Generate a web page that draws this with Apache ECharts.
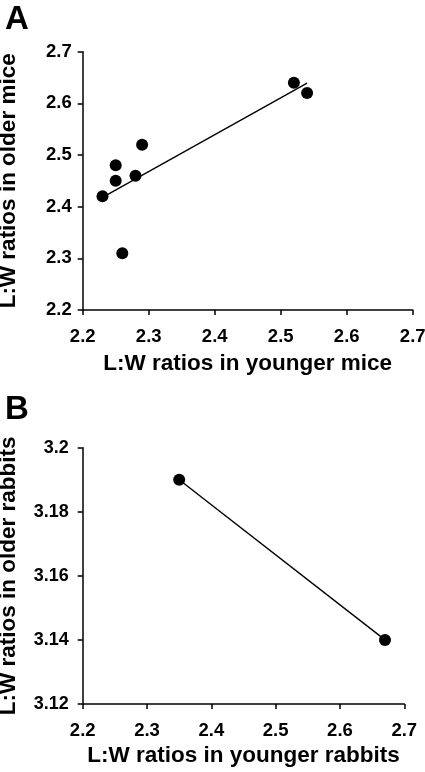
<!DOCTYPE html>
<html>
<head>
<meta charset="utf-8">
<script src="https://cdn.jsdelivr.net/npm/echarts@6/dist/echarts.min.js"></script>
<style>
html,body{margin:0;padding:0;background:#fff;}
#chart{width:425px;height:772px;}
</style>
</head>
<body>
<div id="chart"></div>
<script>
// Panel A: mice
const miceYoung = [2.23, 2.25, 2.25, 2.28, 2.29, 2.26, 2.52, 2.54];
const miceOld   = [2.42, 2.48, 2.45, 2.46, 2.52, 2.31, 2.64, 2.62];
const miceTrendX = [2.23, 2.54];
const miceTrendY = [2.418, 2.639];
const miceXTicks = [2.2, 2.3, 2.4, 2.5, 2.6, 2.7];
const miceYTicks = [2.2, 2.3, 2.4, 2.5, 2.6, 2.7];

// Panel B: rabbits
const rabbitYoung = [2.35, 2.67];
const rabbitOld   = [3.19, 3.14];
const rabbitXTicks = [2.2, 2.3, 2.4, 2.5, 2.6, 2.7];
const rabbitYTicks = [3.12, 3.14, 3.16, 3.18, 3.2];

const FONT = 'Liberation Sans, Arial, sans-serif';

function zip(a, b) { return a.map((v, i) => [v, b[i]]); }

function axisCommon(extra) {
  return Object.assign({
    type: 'value',
    splitLine: { show: false },
    axisLine: { show: true, onZero: false, lineStyle: { color: '#000', width: 1.5 } },
    axisTick: { show: true, inside: false, length: 5, lineStyle: { color: '#000', width: 1.5 } },
    axisLabel: { color: '#000', fontFamily: FONT, fontWeight: 'bold', fontSize: 18 },
    nameLocation: 'middle',
    nameTextStyle: { color: '#000', fontFamily: FONT, fontWeight: 'bold', fontSize: 22.5 }
  }, extra);
}

const chart = echarts.init(document.getElementById('chart'), null, { renderer: 'canvas' });
chart.setOption({
  backgroundColor: '#fff',
  animation: false,
  title: [
    { text: 'A', left: 0, top: -2, textStyle: { fontFamily: FONT, fontWeight: 'bold', fontSize: 33, color: '#000' } },
    { text: 'B', left: 0, top: 388, textStyle: { fontFamily: FONT, fontWeight: 'bold', fontSize: 33, color: '#000' } }
  ],
  grid: [
    { left: 82.7, top: 51.7, width: 330, height: 258.3, containLabel: false, outerBoundsMode: 'none' },
    { left: 82.7, top: 447.7, width: 321.6, height: 256.3, containLabel: false, outerBoundsMode: 'none' }
  ],
  xAxis: [
    axisCommon({ gridIndex: 0, min: miceXTicks[0], max: miceXTicks[miceXTicks.length - 1], interval: 0.1,
      name: 'L:W ratios in younger mice', nameGap: 42,
      axisLabel: { color: '#000', fontFamily: FONT, fontWeight: 'bold', fontSize: 18.5, margin: 17, formatter: v => v.toFixed(1) } }),
    axisCommon({ gridIndex: 1, min: rabbitXTicks[0], max: rabbitXTicks[rabbitXTicks.length - 1], interval: 0.1,
      name: 'L:W ratios in younger rabbits', nameGap: 40,
      axisLabel: { color: '#000', fontFamily: FONT, fontWeight: 'bold', fontSize: 18.5, margin: 17, formatter: v => v.toFixed(1) } })
  ],
  yAxis: [
    axisCommon({ gridIndex: 0, min: miceYTicks[0], max: miceYTicks[miceYTicks.length - 1], interval: 0.1,
      name: 'L:W ratios in older mice', nameGap: 62,
      axisLabel: { color: '#000', fontFamily: FONT, fontWeight: 'bold', fontSize: 18.5, margin: 11, formatter: v => v.toFixed(1) } }),
    axisCommon({ gridIndex: 1, min: rabbitYTicks[0], max: rabbitYTicks[rabbitYTicks.length - 1], interval: 0.02,
      name: 'L:W ratios in older rabbits', nameGap: 62,
      axisLabel: { color: '#000', fontFamily: FONT, fontWeight: 'bold', fontSize: 18, margin: 14,
        formatter: v => (Math.round(v * 100) / 100).toString() } })
  ],
  series: [
    {
      type: 'line', xAxisIndex: 0, yAxisIndex: 0,
      data: zip(miceTrendX, miceTrendY),
      showSymbol: false, symbol: 'none',
      lineStyle: { color: '#000', width: 1.4 }, z: 2
    },
    {
      type: 'scatter', xAxisIndex: 0, yAxisIndex: 0,
      data: zip(miceYoung, miceOld),
      symbol: 'circle', symbolSize: 12,
      itemStyle: { color: '#000', opacity: 1 }, z: 3
    },
    {
      type: 'line', xAxisIndex: 1, yAxisIndex: 1,
      data: zip(rabbitYoung, rabbitOld),
      symbol: 'circle', symbolSize: 12, showSymbol: true,
      lineStyle: { color: '#000', width: 1.4 },
      itemStyle: { color: '#000', borderWidth: 0, opacity: 1 }, z: 3
    }
  ]
});
</script>
</body>
</html>
